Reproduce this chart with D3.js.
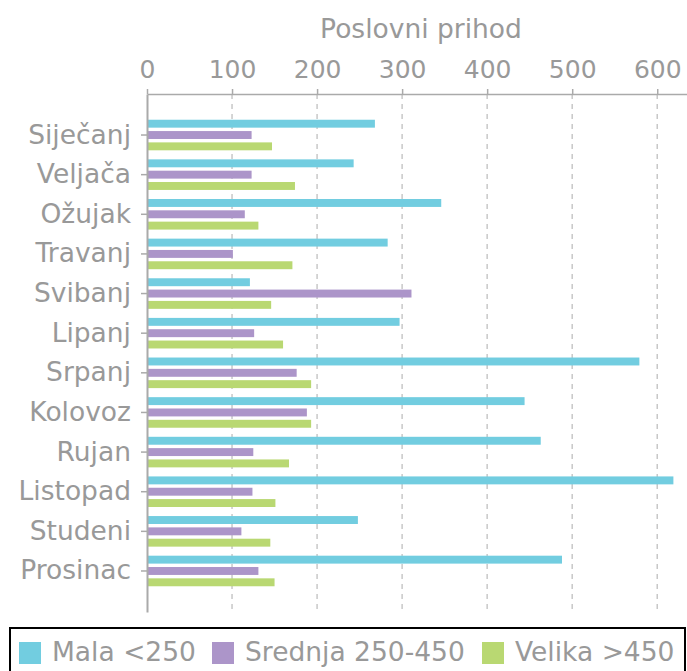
<!DOCTYPE html>
<html>
<head>
<meta charset="utf-8">
<script src="https://cdn.jsdelivr.net/npm/d3@7"></script>
<style>
  body { margin: 0; background: #fff; }
  svg text { font-family: "DejaVu Sans", sans-serif; fill: #999; }
</style>
</head>
<body>
<svg width="687" height="671"></svg>
<script>
var months = ["Siječanj", "Veljača", "Ožujak", "Travanj", "Svibanj", "Lipanj",
              "Srpanj", "Kolovoz", "Rujan", "Listopad", "Studeni", "Prosinac"];
var seriesNames = ["Mala <250", "Srednja 250-450", "Velika >450"];
var mala    = [268, 243, 346, 283, 121, 297, 579, 444, 463, 619, 248, 488];
var srednja = [123, 123, 115, 101, 311, 126, 176, 188, 125, 124, 111, 131];
var velika  = [147, 174, 131, 171, 146, 160, 193, 193, 167, 151, 145, 150];
var xTicks = [0, 100, 200, 300, 400, 500, 600];
var axisTitle = "Poslovni prihod";

var colors = ["#72cde0", "#ac95c9", "#b9d872"];

var svg = d3.select("svg");

var data = months.map(function(m, i) {
    return { month: m, values: [mala[i], srednja[i], velika[i]] };
});

var x = d3.scaleLinear().domain([0, 635]).range([147, 687]);
var y0 = d3.scaleBand().domain(months).range([94, 612]).paddingOuter(0.535).paddingInner(0);
var y1 = d3.scaleBand().domain(d3.range(3)).range([0, y0.bandwidth()]).paddingInner(0.3).paddingOuter(0.4);

// grid lines
svg.append("g")
   .selectAll("line")
   .data(xTicks.slice(1))
   .enter().append("line")
   .attr("x1", function(d) { return x(d); })
   .attr("x2", function(d) { return x(d); })
   .attr("y1", 94)
   .attr("y2", 612)
   .attr("stroke", "#c8c8c8")
   .attr("stroke-width", 1.5)
   .attr("stroke-dasharray", "5,5");

// bars
var groups = svg.append("g")
   .selectAll("g")
   .data(data)
   .enter().append("g")
   .attr("transform", function(d) { return "translate(0," + y0(d.month) + ")"; });

groups.selectAll("rect")
   .data(function(d) { return d.values; })
   .enter().append("rect")
   .attr("x", x(0))
   .attr("y", function(d, i) { return y1(i); })
   .attr("width", function(d) { return x(d) - x(0); })
   .attr("height", y1.bandwidth())
   .attr("fill", function(d, i) { return colors[i]; });

// top axis
var xAxis = svg.append("g")
   .attr("transform", "translate(0,94)")
   .call(d3.axisTop(x).tickValues(xTicks).tickSize(5).tickPadding(11).tickSizeOuter(0));
xAxis.selectAll("text").style("font-size", "25px");
xAxis.selectAll("line").attr("stroke", "#aaa").attr("stroke-width", 1.5);
xAxis.select(".domain").attr("stroke", "#aaa").attr("stroke-width", 1.5);

svg.append("text")
   .attr("x", 421)
   .attr("y", 38)
   .attr("text-anchor", "middle")
   .style("font-size", "26.5px")
   .text(axisTitle);

// left axis
var yAxis = svg.append("g")
   .attr("transform", "translate(147,0)")
   .call(d3.axisLeft(y0).tickSize(6).tickPadding(10).tickSizeOuter(0));
yAxis.selectAll("text").style("font-size", "26.5px");
yAxis.selectAll("line").attr("stroke", "#aaa").attr("stroke-width", 1.5);
yAxis.select(".domain").attr("stroke", "#aaa").attr("stroke-width", 2);

// legend
var legend = svg.append("g");
legend.append("rect")
   .attr("x", 10)
   .attr("y", 628)
   .attr("width", 675)
   .attr("height", 60)
   .attr("fill", "#fff")
   .attr("stroke", "#000")
   .attr("stroke-width", 2);

var legendX = [19, 212, 482];
var items = legend.selectAll(".item")
   .data(seriesNames)
   .enter().append("g")
   .attr("class", "item")
   .attr("transform", function(d, i) { return "translate(" + legendX[i] + ",642)"; });

items.append("rect")
   .attr("width", 22)
   .attr("height", 22)
   .attr("fill", function(d, i) { return colors[i]; });

items.append("text")
   .attr("x", 33)
   .attr("y", 19)
   .style("font-size", "26.5px")
   .text(function(d) { return d; });
</script>
</body>
</html>
